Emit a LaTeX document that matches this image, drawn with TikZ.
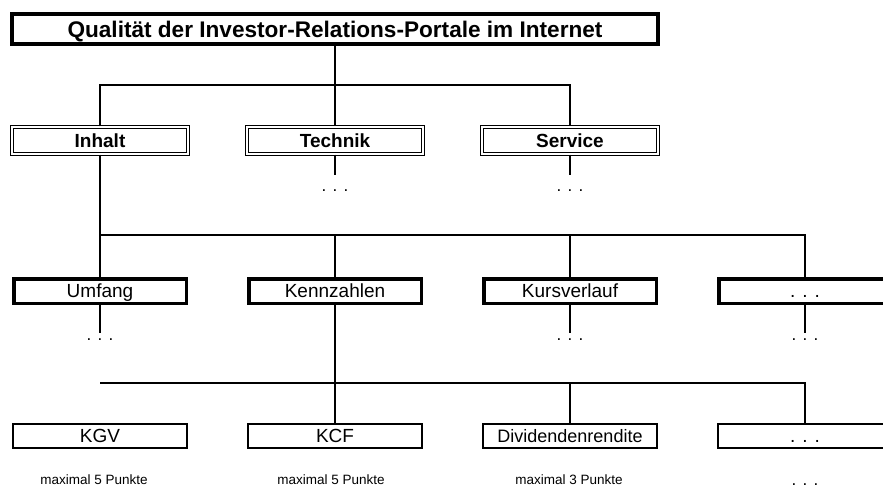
\documentclass[tikz,border=0pt]{standalone}
\usepackage{fontspec}
\setmainfont{Liberation Sans}

\tikzset{
  titlebox/.style={draw, line width=4pt, minimum width=646pt, minimum height=30pt, inner sep=0pt, text height=16.1pt, text depth=0pt, font=\bfseries\fontsize{22.6}{26}\selectfont},
  areabox/.style={draw, double, double distance=1.4pt, line width=1.3pt, minimum width=176pt, minimum height=27pt, inner sep=0pt, text height=13.6pt, text depth=0pt, font=\bfseries\fontsize{19}{22}\selectfont},
  critbox/.style={draw, line width=3.5pt, minimum width=172.5pt, minimum height=24.5pt, inner sep=0pt, text height=13.6pt, text depth=0pt, font=\fontsize{19}{22}\selectfont},
  subbox/.style={draw, line width=2.4pt, minimum width=173.5pt, minimum height=23.6pt, inner sep=0pt, text height=13.6pt, text depth=0pt, font=\fontsize{19}{22}\selectfont},
  morenode/.style={inner sep=0pt, anchor=base, font=\fontsize{17}{20}\selectfont},
  points/.style={inner sep=0pt, anchor=base, font=\fontsize{13.5}{16}\selectfont},
  link/.style={line width=2pt}
}

\begin{document}
\begin{tikzpicture}[x=1pt,y=-1pt]
\useasboundingbox (0,0) rectangle (883,488);
\clip (0,0) rectangle (883,488);

\node [titlebox] (title) at (335,29) {Qualität der Investor-Relations-Portale im Internet};

\node [areabox] (inhalt) at (100,140.5) {Inhalt};
\node [areabox] (technik) at (335,140.5) {Technik};
\node [areabox] (service) at (570,140.5) {Service};
\coordinate (bus1) at (335,85);
\draw [link] (title) -- (bus1);
\draw [link] (inhalt) |- (bus1) -| (service);
\draw [link] (bus1) -- (technik);

\foreach \n/\x in {technik/335,service/570} {
  \coordinate (\n-end) at (\x,175);
  \node [morenode] (\n-more) at (\x,191) {. . .};
  \draw [link] (\n) -- (\n-end);
}

\node [critbox] (umfang) at (100,291) {Umfang};
\node [critbox] (kennzahlen) at (335,291) {Kennzahlen};
\node [critbox] (kursverlauf) at (570,291) {Kursverlauf};
\node [critbox] (critmore) at (805,291) {. . .};
\coordinate (bus2) at (335,235);
\draw [link] (inhalt) -- (umfang);
\draw [link] (umfang |- bus2) -| (critmore);
\draw [link] (bus2) -- (kennzahlen);
\draw [link] (bus2 -| kursverlauf) -- (kursverlauf);

\foreach \n/\x in {umfang/100,kursverlauf/570,critmore/805} {
  \coordinate (\n-end) at (\x,333);
  \node [morenode] (\n-more) at (\x,340) {. . .};
  \draw [link] (\n) -- (\n-end);
}

\node [subbox] (kgv) at (100,436) {KGV};
\node [subbox] (kcf) at (335,436) {KCF};
\node [subbox, font=\fontsize{18}{21}\selectfont] (dividende) at (570,436) {Dividendenrendite};
\node [subbox] (submore) at (805,436) {. . .};
\coordinate (bus3) at (335,383);
\draw [link] (kennzahlen) -- (kcf);
\draw [link] (kgv |- bus3) -| (submore);
\draw [link] (bus3 -| dividende) -- (dividende);

\node [points] (kgvpts) at (94,484) {maximal 5 Punkte};
\node [points] (kcfpts) at (331,484) {maximal 5 Punkte};
\node [points] (divpts) at (569,484) {maximal 3 Punkte};
\node [morenode] (subpts) at (805,485) {. . .};

\end{tikzpicture}
\end{document}
